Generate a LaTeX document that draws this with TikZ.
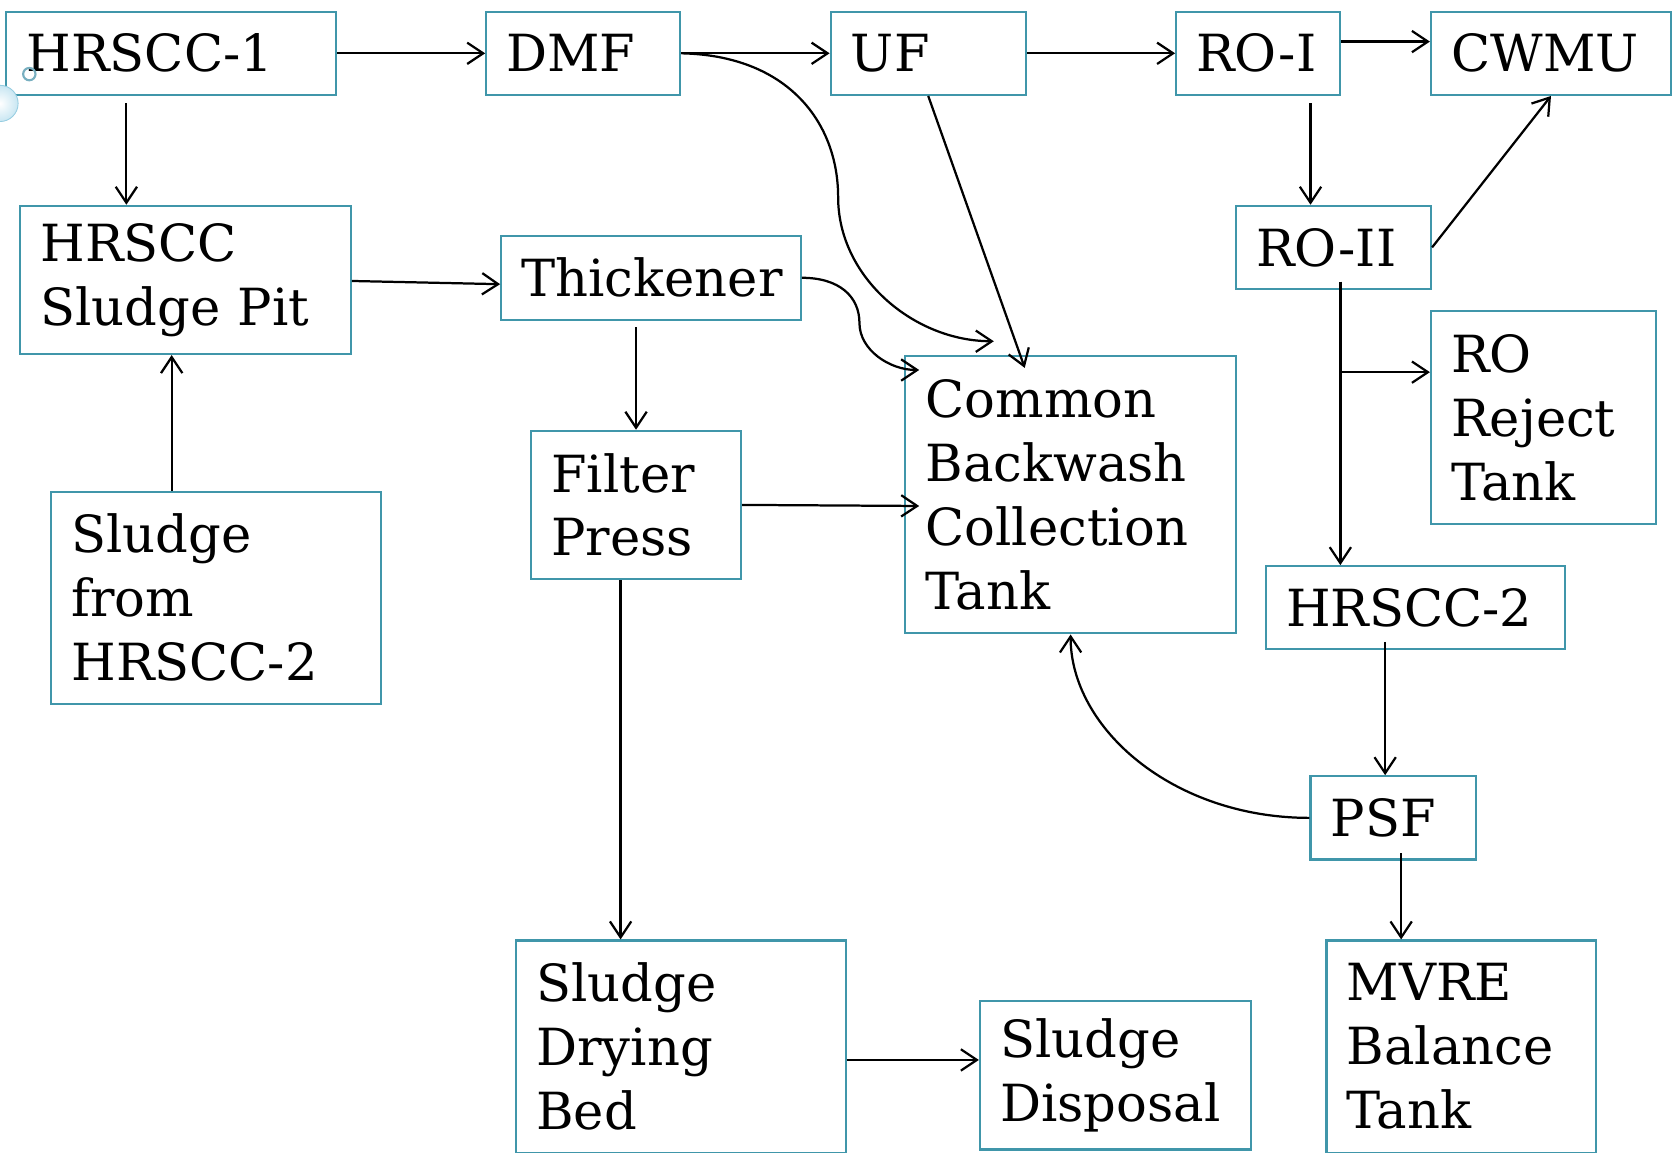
\documentclass[tikz,border=0pt]{standalone}
\usepackage{fontspec}
\setmainfont{DejaVu Serif}
\usetikzlibrary{arrows.meta,calc}
\definecolor{boxteal}{RGB}{64,150,170}
\definecolor{ringteal}{RGB}{120,175,192}
\definecolor{bubble}{RGB}{200,230,242}
\definecolor{bubbleedge}{RGB}{150,205,225}
\tikzset{
  box/.style={draw=boxteal, line width=2pt, anchor=north west, inner xsep=19pt, inner ysep=0pt,
    align=left, font=\fontsize{48}{60}\selectfont},
  flow/.style={line width=2.1pt, -{Straight Barb[length=15pt,width=20pt]}},
  plain/.style={line width=2.1pt}
}
\newcommand\bx[6]{%
  \pgfmathsetmacro\bxw{#4-#2}\pgfmathsetmacro\bxh{#5-#3}\pgfmathsetmacro\bxt{#4-#2-38}%
  \node[box,minimum width=\bxw pt,minimum height=\bxh pt,text width=\bxt pt] (#1) at (#2,#3) {#6};}
\begin{document}
\begin{tikzpicture}[x=1pt,y=-1pt]
\useasboundingbox (0,0) rectangle (1568,1081);
\bx{hr1}{5}{10}{314}{88}{HRSCC-1}
\bx{dmf}{455}{10}{637}{88}{DMF}
\bx{uf}{778}{10}{961}{88}{UF}
\bx{ro1}{1102}{10}{1256}{88}{RO-I}
\bx{cwmu}{1341}{10}{1566}{88}{CWMU}
\bx{pit}{18}{192}{328}{331}{HRSCC\\Sludge Pit}
\bx{thick}{469}{220}{750}{299}{Thickener}
\bx{ro2}{1158}{192}{1341}{270}{RO-II}
\bx{rrt}{1341}{291}{1552}{490}{RO\\Reject\\Tank}
\bx{cbt}{848}{333}{1158}{593}{Common\\Backwash\\Collection\\Tank}
\bx{fp}{497}{403}{694}{542}{Filter\\Press}
\bx{sh2}{47}{460}{356}{659}{Sludge\\from\\HRSCC-2}
\bx{hr2}{1186}{530}{1467}{608}{HRSCC-2}
\bx{psf}{1228}{727}{1383}{805}{PSF}
\bx{sdb}{483}{881}{792}{1080}{Sludge\\Drying\\Bed}
\bx{sd}{918}{938}{1172}{1077}{Sludge\\Disposal}
\bx{mvre}{1243}{881}{1496}{1080}{MVRE\\Balance\\Tank}

% straight connectors along the top
\draw[flow] (hr1.east) -- (dmf.west);
\draw[flow] (dmf.east) -- (uf.west);
\draw[flow] (uf.east) -- (ro1.west);
\draw[flow] ($(ro1.east)+(0,-11)$) -- ($(cwmu.west)+(0,-11)$);

% vertical connectors
\coordinate (e1) at ($(hr1.south)+(-42,7)$);
\draw[flow] (e1) -- (e1 |- pit.north);
\coordinate (f1) at ($(ro1.south)+(49,7)$);
\draw[flow] (f1) -- (f1 |- ro2.north);
\draw[flow] (ro2.east) -- (cwmu.south);
\draw[flow] ($(pit.east)+(0,1)$) -- ($(thick.west)+(0,6)$);
\coordinate (i1) at ($(sh2.north)+(-41.5,0)$);
\draw[flow] (i1) -- (i1 |- pit.south);
\draw[flow] ($(thick.south)+(-14,6)$) -- (fp.north);
\draw[flow] (fp.east) -- ($(cbt.west |- fp.east)+(14,1)$);
\coordinate (l1) at ($(fp.south)+(-14.5,0)$);
\draw[flow] (l1) -- (l1 |- sdb.north);
\coordinate (m1) at ($(sdb.east)+(0,12.5)$);
\draw[flow] (m1) -- (m1 -| sd.west);

% curved connectors into the common tank
\coordinate (n1) at (786,185);
\coordinate (n2) at ($(cbt.north west)+(84,-13)$);
\draw[flow] (dmf.east) .. controls +(100,2) and +(0,-70) .. (n1)
  .. controls +(0,75) and +(-75,0) .. (n2);
\coordinate (o1) at (806,303);
\coordinate (o2) at ($(cbt.north west)+(14,14)$);
\draw[flow] (thick.east) .. controls +(35,0) and +(0,-25) .. (o1)
  .. controls +(0,25) and +(-28,0) .. (o2);
\draw[flow] (uf.south) -- ($(cbt.north west)+(113,12)$);
\draw[flow] (psf.west) .. controls +(-128,0) and +(0,88) .. (cbt.south);

% RO-II branch
\coordinate (q1) at ($(ro2.south)+(6.5,-8)$);
\coordinate (q2) at ($(q1)+(0,85)$);
\draw[flow] (q1) -- (q1 |- hr2.north);
\draw[flow] (q2) -- (q2 -| rrt.west);

\coordinate (r1) at ($(hr2.south)+(-28.5,-8)$);
\draw[flow] (r1) -- (r1 |- psf.north);
\coordinate (t1) at ($(psf.south)+(7.5,-7)$);
\draw[flow] (t1) -- (t1 |- mvre.north);

% template decorations
\shade[inner color=white, outer color=bubble, draw=bubbleedge, line width=0.8pt] (0,97) circle (17pt);
\draw[ringteal, line width=2pt] (27.5,69.5) circle (5.8pt);
\end{tikzpicture}
\end{document}
